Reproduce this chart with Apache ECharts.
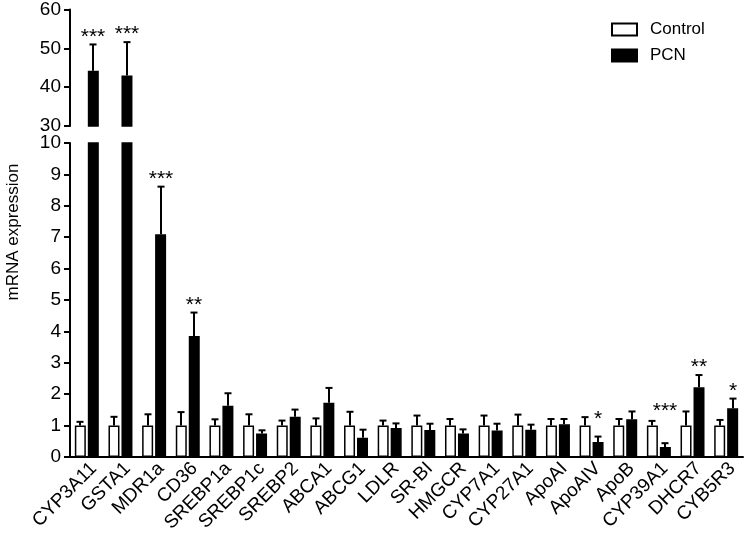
<!DOCTYPE html>
<html>
<head>
<meta charset="utf-8">
<script src="https://cdn.jsdelivr.net/npm/echarts@6/dist/echarts.min.js"></script>
<style>
  html, body { margin: 0; padding: 0; background: #fff; }
  #chart { width: 749px; height: 535px; }
</style>
</head>
<body>
<div id="chart"></div>
<script>
// données
const categories = ['CYP3A11', 'GSTA1', 'MDR1a', 'CD36', 'SREBP1a', 'SREBP1c', 'SREBP2', 'ABCA1', 'ABCG1', 'LDLR',
  'SR-BI', 'HMGCR', 'CYP7A1', 'CYP27A1', 'ApoAI', 'ApoAIV', 'ApoB', 'CYP39A1', 'DHCR7', 'CYB5R3'];
const controlMean = [1, 1, 1, 1, 1, 1, 1, 1, 1, 1, 1, 1, 1, 1, 1, 1, 1, 1, 1, 1];
const controlErr = [0.12, 0.28, 0.36, 0.43, 0.2, 0.36, 0.16, 0.23, 0.44, 0.16,
  0.32, 0.21, 0.32, 0.35, 0.21, 0.27, 0.21, 0.15, 0.45, 0.18];
const pcnMean = [44.2, 43.0, 7.09, 3.85, 1.63, 0.75, 1.28, 1.73, 0.61, 0.92,
  0.86, 0.75, 0.84, 0.87, 1.04, 0.48, 1.2, 0.32, 2.22, 1.55];
const pcnErr = [6.8, 8.6, 1.52, 0.75, 0.4, 0.1, 0.23, 0.47, 0.26, 0.15,
  0.2, 0.13, 0.22, 0.16, 0.17, 0.17, 0.25, 0.12, 0.39, 0.31];
const pcnStars = ['***', '***', '***', '**', '', '', '', '', '', '',
  '', '', '', '', '', '*', '', '***', '**', '*'];
// hauteur des étoiles quand elles ne sont pas juste au-dessus de la barre d'erreur
const starLevel = [null, null, null, null, null, null, null, null, null, null,
  null, null, null, null, null, 0.98, null, 1.22, null, null];
const upperTicks = [30, 60, 10];   // min, max, interval
const lowerTicks = [0, 10, 1];

const FONT = 'Arial, "Liberation Sans", sans-serif';
const BAR_W = 11;
const OFFSET = 6.5;

// barres d'erreur (vers le haut seulement) + étoiles
function errorRenderer(means, errs, offset, lo, hi, marks) {
  return function (params, api) {
    const i = api.value(0);
    const m = means[i], e = errs[i];
    if (m > hi || m < lo) return null;
    const base = api.coord([i, m]);
    const top = api.coord([i, m + e]);
    const x = Math.round(base[0] + offset);
    const children = [
      { type: 'line', shape: { x1: x, y1: base[1], x2: x, y2: top[1] }, style: { stroke: '#000', lineWidth: 2 } },
      { type: 'line', shape: { x1: x - 3.5, y1: top[1], x2: x + 3.5, y2: top[1] }, style: { stroke: '#000', lineWidth: 2 } }
    ];
    if (marks && marks[i]) {
      const ys = starLevel[i] != null ? api.coord([i, starLevel[i]])[1] : top[1];
      children.push({
        type: 'text',
        style: {
          text: marks[i], x: x, y: ys + 3, align: 'center', verticalAlign: 'bottom',
          font: '21px ' + FONT, fill: '#000'
        }
      });
    }
    return { type: 'group', children: children };
  };
}

function yAxisCfg(gridIndex, t) {
  return {
    type: 'value', gridIndex: gridIndex, min: t[0], max: t[1], interval: t[2],
    splitLine: { show: false },
    axisLine: { show: true, lineStyle: { color: '#000', width: 2 } },
    axisTick: { show: true, inside: false, length: 6, lineStyle: { color: '#000', width: 2 } },
    axisLabel: { color: '#000', fontSize: 19, fontFamily: FONT, margin: 9 }
  };
}

const idxData = categories.map((c, i) => [i]);
const upper = v => v.map(d => (d > upperTicks[0] ? d : '-'));

const chart = echarts.init(document.getElementById('chart'));
chart.setOption({
  animation: false,
  grid: [
    { left: 70, width: 673, top: 8, height: 118 },
    { left: 70, width: 673, top: 143, height: 314 },
    // grille fantôme, juste pour décaler les étiquettes inclinées
    { left: 77, width: 673, top: 143, height: 314 }
  ],
  legend: {
    orient: 'vertical', left: 611, top: 21, padding: 0, itemWidth: 25, itemHeight: 12, itemGap: 9,
    icon: 'rect',
    textStyle: { color: '#000', fontSize: 17, fontFamily: FONT, padding: [0, 0, 0, 8] },
    data: ['Control', 'PCN']
  },
  xAxis: [
    { type: 'category', gridIndex: 0, data: categories, show: false },
    {
      type: 'category', gridIndex: 1, data: categories,
      axisLine: { lineStyle: { color: '#000', width: 2 } },
      axisTick: { show: false },
      axisLabel: { show: false }
    },
    {
      type: 'category', gridIndex: 2, data: categories,
      axisLine: { show: false },
      axisTick: { show: false },
      axisLabel: { color: '#000', fontSize: 19, fontFamily: FONT, rotate: 45, interval: 0, margin: 14 }
    }
  ],
  yAxis: [yAxisCfg(0, upperTicks), yAxisCfg(1, lowerTicks), { type: 'value', gridIndex: 2, show: false }],
  graphic: [{
    type: 'text', x: 5, y: 232, rotation: Math.PI / 2,
    style: { text: 'mRNA expression', font: '17px ' + FONT, fill: '#000', align: 'center', verticalAlign: 'top' }
  }],
  series: [
    {
      name: 'Control', type: 'bar', xAxisIndex: 1, yAxisIndex: 1, data: controlMean,
      barWidth: BAR_W, barGap: '18%',
      itemStyle: { color: '#fff', borderColor: '#000', borderWidth: 1.5 }
    },
    {
      name: 'PCN', type: 'bar', xAxisIndex: 1, yAxisIndex: 1, data: pcnMean,
      barWidth: BAR_W, barGap: '18%',
      itemStyle: { color: '#000', borderColor: '#000', borderWidth: 1.5 }
    },
    {
      name: 'Control', type: 'bar', xAxisIndex: 0, yAxisIndex: 0, data: upper(controlMean),
      barWidth: BAR_W, barGap: '18%',
      itemStyle: { color: '#fff', borderColor: '#000', borderWidth: 1.5 }
    },
    {
      name: 'PCN', type: 'bar', xAxisIndex: 0, yAxisIndex: 0, data: upper(pcnMean),
      barWidth: BAR_W, barGap: '18%',
      itemStyle: { color: '#000', borderColor: '#000', borderWidth: 1.5 }
    },
    { type: 'custom', xAxisIndex: 1, yAxisIndex: 1, data: idxData, encode: { x: 0 }, z: 3,
      renderItem: errorRenderer(controlMean, controlErr, -OFFSET, 0, 10, null) },
    { type: 'custom', xAxisIndex: 1, yAxisIndex: 1, data: idxData, encode: { x: 0 }, z: 3,
      renderItem: errorRenderer(pcnMean, pcnErr, OFFSET, 0, 10, pcnStars) },
    { type: 'custom', xAxisIndex: 0, yAxisIndex: 0, data: idxData, encode: { x: 0 }, z: 3,
      renderItem: errorRenderer(pcnMean, pcnErr, OFFSET, 30, 60, pcnStars) }
  ]
});
</script>
</body>
</html>
